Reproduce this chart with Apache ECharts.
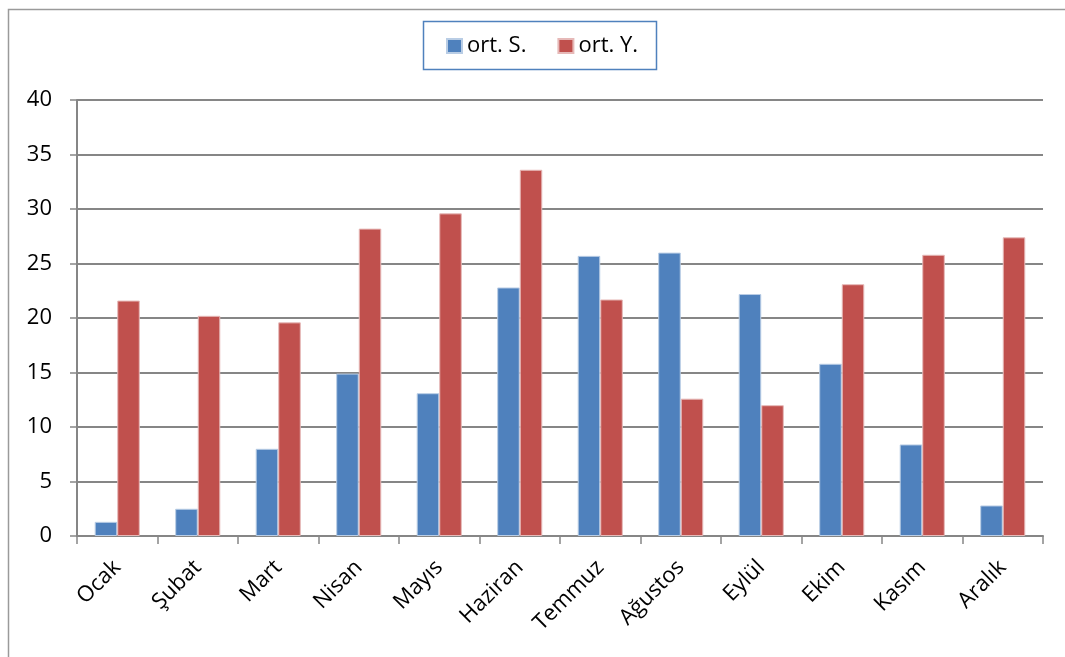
<!DOCTYPE html>
<html>
<head>
<meta charset="utf-8">
<script src="https://cdn.jsdelivr.net/npm/echarts@6/dist/echarts.min.js"></script>
<style>
html,body{margin:0;padding:0;background:#fff;}
#chart{width:1065px;height:657px;}
</style>
</head>
<body>
<div id="chart"></div>
<script>
const categories = ['Ocak','Şubat','Mart','Nisan','Mayıs','Haziran','Temmuz','Ağustos','Eylül','Ekim','Kasım','Aralık'];
const seriesNames = ['ort. S.','ort. Y.'];
const ortS = [1.3, 2.5, 8.0, 14.9, 13.1, 22.8, 25.7, 26.0, 22.2, 15.8, 8.4, 2.8];
const ortY = [21.6, 20.2, 19.6, 28.2, 29.6, 33.6, 21.7, 12.6, 12.0, 23.1, 25.8, 27.4];
const yTicks = {min: 0, max: 40, interval: 5};

const font = '"Open Sans", "Noto Sans", sans-serif';
const chart = echarts.init(document.getElementById('chart'), null, {renderer: 'canvas'});
chart.setOption({
  animation: false,
  backgroundColor: '#fff',
  graphic: [
    {type: 'rect', shape: {x: 8.5, y: 9.5, width: 1080, height: 680}, style: {fill: 'none', stroke: '#9a9a9a', lineWidth: 1.5}, z: -1},
    {type: 'rect', shape: {x: 423.5, y: 21.5, width: 233, height: 48}, style: {fill: '#fff', stroke: '#4f81bd', lineWidth: 1.5}, z: 0}
  ],
  legend: {
    top: 35, left: 446, padding: 0,
    itemWidth: 15, itemHeight: 14, itemGap: 31,
    icon: 'rect',
    textStyle: {fontFamily: font, fontSize: 22, color: '#000'},
    data: seriesNames
  },
  grid: {left: 77, right: 22, top: 100, bottom: 121, containLabel: false},
  xAxis: {
    type: 'category',
    data: categories,
    axisLine: {lineStyle: {color: '#868686', width: 2}},
    axisTick: {show: true, length: 8, lineStyle: {color: '#868686', width: 1.5}, alignWithLabel: false},
    axisLabel: {rotate: 45, fontFamily: font, fontSize: 22, color: '#000', margin: 28, interval: 0, verticalAlign: 'middle', align: 'right'},
    splitLine: {show: false}
  },
  yAxis: {
    type: 'value',
    min: yTicks.min, max: yTicks.max, interval: yTicks.interval,
    axisLine: {show: true, lineStyle: {color: '#868686', width: 2}},
    axisTick: {show: true, length: 7, lineStyle: {color: '#868686', width: 1.5}},
    axisLabel: {fontFamily: font, fontSize: 22, color: '#000', margin: 25},
    splitLine: {show: true, lineStyle: {color: '#868686', width: 2}}
  },
  series: [
    {name: seriesNames[0], type: 'bar', data: ortS, barGap: '0%', barCategoryGap: '44%',
     itemStyle: {color: '#4f81bd', borderColor: '#b9cde5', borderWidth: 1}},
    {name: seriesNames[1], type: 'bar', data: ortY, barGap: '0%', barCategoryGap: '44%',
     itemStyle: {color: '#c0504d', borderColor: '#e6b9b8', borderWidth: 1}}
  ]
});
</script>
</body>
</html>
